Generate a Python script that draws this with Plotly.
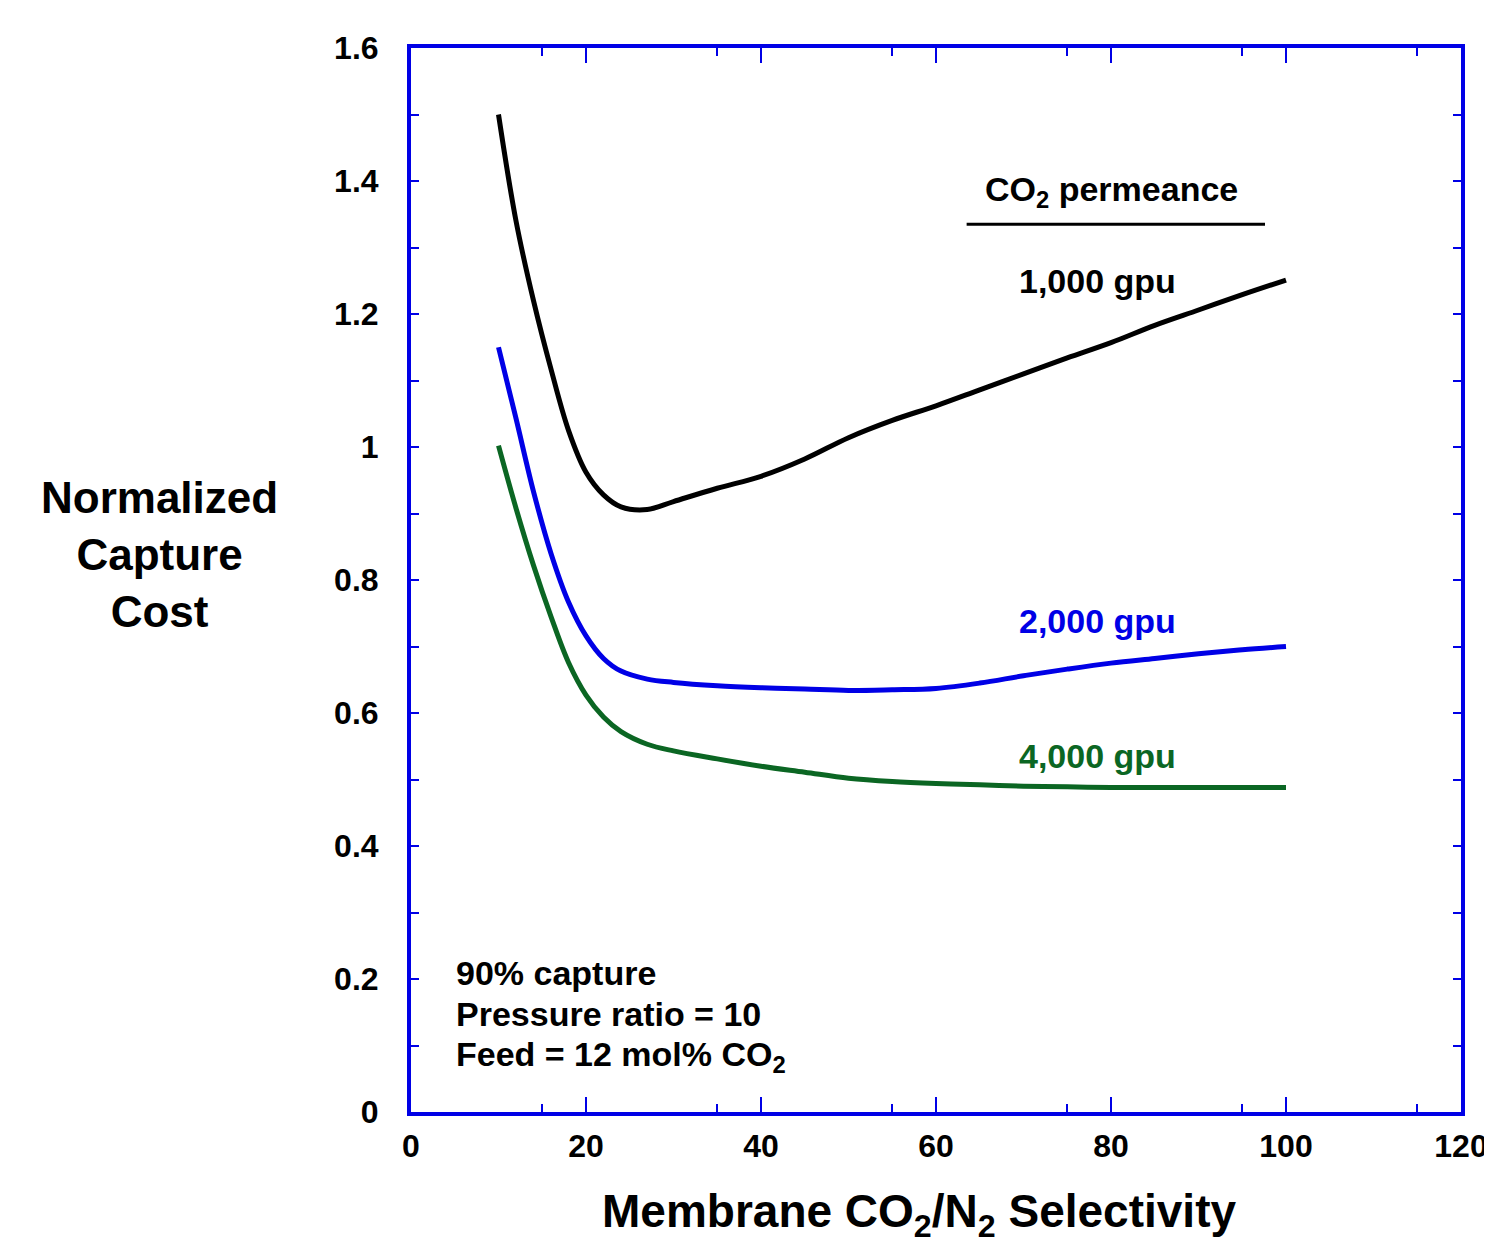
import plotly.graph_objects as go

# Selectivity values (x)
selectivity = [10, 12, 14, 16, 18, 20, 22, 24, 27, 30, 35, 40, 45, 50, 55, 60,
               65, 70, 75, 80, 85, 90, 95, 100]

cost_1000 = [1.500, 1.340, 1.220, 1.117, 1.025, 0.962, 0.928, 0.910, 0.906, 0.918,
             0.938, 0.956, 0.982, 1.014, 1.040, 1.062, 1.086, 1.110, 1.134, 1.157,
             1.183, 1.206, 1.229, 1.251]
cost_2000 = [1.150, 1.043, 0.933, 0.840, 0.767, 0.716, 0.682, 0.663, 0.651, 0.646,
             0.641, 0.638, 0.636, 0.634, 0.635, 0.637, 0.645, 0.656, 0.666, 0.675,
             0.682, 0.689, 0.695, 0.700]
cost_4000 = [1.002, 0.908, 0.822, 0.745, 0.676, 0.627, 0.594, 0.572, 0.553, 0.543,
             0.531, 0.520, 0.511, 0.502, 0.497, 0.494, 0.492, 0.490, 0.489, 0.488,
             0.488, 0.488, 0.488, 0.488]

series_names = ["1,000 gpu", "2,000 gpu", "4,000 gpu"]
series_colors = ["#000000", "#0000E6", "#0B6623"]

x_ticks = [0, 20, 40, 60, 80, 100, 120]
y_ticks = [0, 0.2, 0.4, 0.6, 0.8, 1, 1.2, 1.4, 1.6]
y_tick_labels = ["0", "0.2", "0.4", "0.6", "0.8", "1", "1.2", "1.4", "1.6"]

FONT = "Liberation Sans, Arial, sans-serif"
AXIS_BLUE = "#0000E6"

fig = go.Figure()
for name, ys, col in zip(series_names, [cost_1000, cost_2000, cost_4000], series_colors):
    fig.add_trace(go.Scatter(x=selectivity, y=ys, mode="lines", name=name,
                             line=dict(color=col, width=5, shape="spline", smoothing=1.0),
                             showlegend=False))

tickfont = dict(family=FONT, size=32, color="#000000", weight="bold")

fig.update_layout(
    width=1492, height=1245,
    margin=dict(l=403, r=25, t=40, b=141),
    paper_bgcolor="white", plot_bgcolor="white",
    xaxis=dict(range=[0, 120], tickvals=x_ticks, ticks="inside", ticklen=15, tickwidth=2,
               tickcolor=AXIS_BLUE, showline=True, linecolor=AXIS_BLUE, linewidth=4,
               mirror="allticks", showgrid=False, zeroline=False, tickfont=tickfont,
               ticklabelstandoff=3, ticklabeloverflow="allow",
               minor=dict(tick0=15, dtick=20, ticks="inside", ticklen=8, tickwidth=2,
                          tickcolor=AXIS_BLUE, showgrid=False)),
    yaxis=dict(range=[0, 1.6], tickvals=y_ticks, ticktext=y_tick_labels, ticks="inside",
               ticklen=8, tickwidth=2, tickcolor=AXIS_BLUE, showline=True,
               linecolor=AXIS_BLUE, linewidth=4, mirror="allticks", showgrid=False,
               zeroline=False, tickfont=tickfont, ticklabelstandoff=22,
               ticklabeloverflow="allow",
               minor=dict(dtick=0.1, ticks="inside", ticklen=8, tickwidth=2,
                          tickcolor=AXIS_BLUE, showgrid=False)),
)

label_font = 34
# series labels
label_pos = [(78.4, 1.25), (78.4, 0.739), (78.4, 0.536)]
for name, (lx, ly), col in zip(series_names, label_pos, series_colors):
    fig.add_annotation(x=lx, y=ly, text=name, showarrow=False, xanchor="center",
                       yanchor="middle",
                       font=dict(family=FONT, size=label_font, color=col, weight="bold"))

fig.add_annotation(x=80.1, y=1.384, text="CO<sub>2</sub> permeance", showarrow=False,
                   xanchor="center", yanchor="middle",
                   font=dict(family=FONT, size=label_font, color="#000000", weight="bold"))
fig.add_shape(type="line", x0=63.5, x1=97.6, y0=1.335, y1=1.335, xref="x", yref="y",
              line=dict(color="#000000", width=3))

notes = ["90% capture", "Pressure ratio = 10", "Feed = 12 mol% CO<sub>2</sub>"]
note_y = [0.209, 0.147, 0.084]
for t, ny in zip(notes, note_y):
    fig.add_annotation(x=4.9, y=ny, text=t, showarrow=False, xanchor="left",
                       yanchor="middle",
                       font=dict(family=FONT, size=label_font, color="#000000", weight="bold"))

# axis titles
fig.add_annotation(xref="paper", yref="paper", x=0.4835, y=-0.096,
                   text="Membrane CO<sub>2</sub>/N<sub>2</sub> Selectivity", showarrow=False,
                   xanchor="center", yanchor="middle",
                   font=dict(family=FONT, size=46, color="#000000", weight="bold"))
fig.add_annotation(xref="paper", yref="paper", x=-0.24, y=0.524,
                   text="Normalized<br>Capture<br>Cost", showarrow=False,
                   xanchor="center", yanchor="middle", align="center",
                   font=dict(family=FONT, size=44, color="#000000", weight="bold"))

fig.write_html("out.html")
